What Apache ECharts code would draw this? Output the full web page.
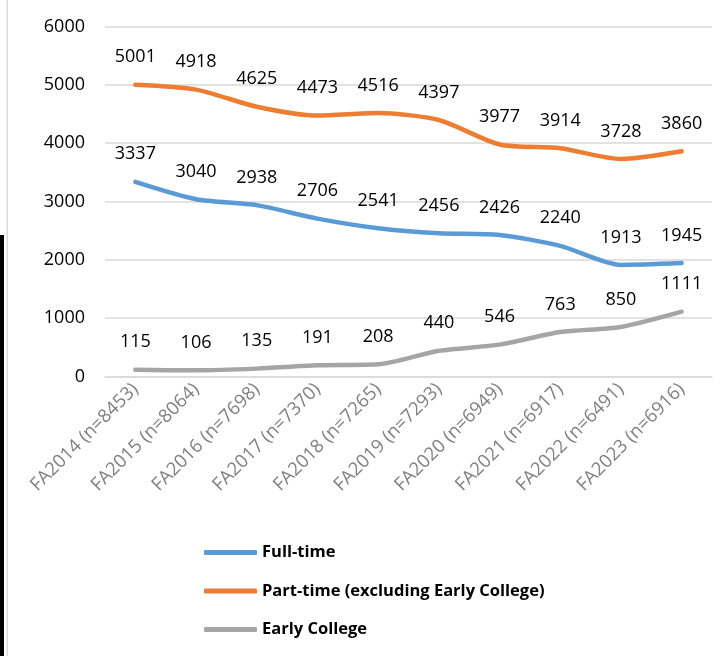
<!DOCTYPE html>
<html><head><meta charset="utf-8">
<script src="https://cdn.jsdelivr.net/npm/echarts@6/dist/echarts.min.js"></script>
<style>html,body{margin:0;padding:0;background:#fff}#c{width:721px;height:656px}</style>
</head><body><div id="c"></div>
<script>
const categories = ["FA2014 (n=8453)","FA2015 (n=8064)","FA2016 (n=7698)","FA2017 (n=7370)","FA2018 (n=7265)","FA2019 (n=7293)","FA2020 (n=6949)","FA2021 (n=6917)","FA2022 (n=6491)","FA2023 (n=6916)"];
const fullTime = [3337,3040,2938,2706,2541,2456,2426,2240,1913,1945];
const partTime = [5001,4918,4625,4473,4516,4397,3977,3914,3728,3860];
const earlyCollege = [115,106,135,191,208,440,546,763,850,1111];
const yTicks = [0,1000,2000,3000,4000,5000,6000];
const seriesNames = ["Full-time","Part-time (excluding Early College)","Early College"];
const colors = ["#5B9BD5","#ED7D31","#A5A5A5"];

const font = "'Open Sans', 'Noto Sans', sans-serif";
const chart = echarts.init(document.getElementById('c'), null, {renderer:'canvas'});
function mk(name, data, color){
  return {
    name, type:'line', data, smooth:0.25, symbol:'circle', symbolSize:1, showSymbol:true,
    lineStyle:{color, width:4.5, cap:'round', join:'round'},
    itemStyle:{color},
    label:{show:true, position:'top', distance:18, color:'#000', fontFamily:font, fontSize:18, formatter:p=>String(p.value)},
    labelLayout:{hideOverlap:false},
    emphasis:{disabled:true}
  };
}
chart.setOption({
  animation:false,
  color:colors,
  grid:{left:105, right:9, top:26.5, bottom:279.5, containLabel:false},
  xAxis:{type:'category', data:categories, boundaryGap:true,
    axisLine:{show:true, lineStyle:{color:'#d9d9d9', width:1.5}},
    axisTick:{show:false},
    axisLabel:{rotate:45, margin:10, color:'#808080', fontFamily:font, fontSize:18.5, interval:0}},
  yAxis:{type:'value', min:yTicks[0], max:yTicks[yTicks.length-1], interval:1000,
    axisLine:{show:false}, axisTick:{show:false},
    splitLine:{lineStyle:{color:'#d9d9d9', width:1.5}},
    axisLabel:{margin:20, color:'#000', fontFamily:font, fontSize:18, formatter:v=>String(v)}},
  legend:{orient:'vertical', left:199, top:539, itemGap:21.5,
    itemWidth:53, itemHeight:5, icon:'roundRect',
    data:seriesNames,
    textStyle:{color:'#000', fontFamily:font, fontSize:16.5, fontWeight:'bold'}},
  series:[mk(seriesNames[0], fullTime, colors[0]), mk(seriesNames[1], partTime, colors[1]), mk(seriesNames[2], earlyCollege, colors[2])],
  graphic:[
    {type:'rect', shape:{x:6.5, y:0, width:1.5, height:656}, style:{fill:'#d9d9d9'}, silent:true},
    {type:'rect', shape:{x:0, y:235, width:4, height:421}, style:{fill:'#000'}, silent:true}
  ]
});
</script></body></html>
